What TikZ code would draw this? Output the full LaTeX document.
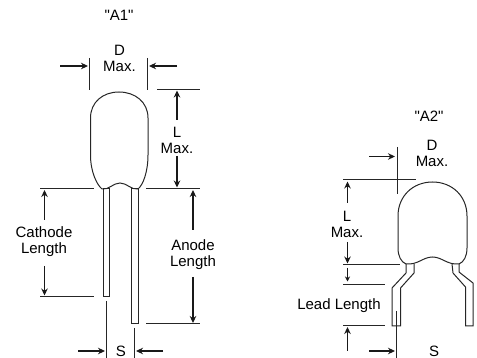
\documentclass[tikz,border=0pt]{standalone}
\usepackage{fontspec}
\newfontfamily\etiquettefont{Liberation Sans}
\usetikzlibrary{arrows.meta}

\begin{document}
\begin{tikzpicture}[x=1pt, y=-1pt]
\tikzset{etiquette/.style={inner sep=0pt, align=center, font=\etiquettefont\fontsize{15}{16}\selectfont, text=black},
  repere/.style={line width=1pt, black!85},
  cote/.style={line width=1.5pt, black!90, -{Stealth[length=7pt, width=6.5pt]}},
  petitecote/.style={line width=1pt, black!90, -{Stealth[length=5pt, width=5pt]}},
  contour/.style={line width=1pt, black!85}}
\useasboundingbox (0, 0) rectangle (477, 358);
% A1
\node[etiquette] (TitreA) at (119, 15) {"A1"};
\node[etiquette] (DA) at (119.5, 58) {D\\Max.};
\node[etiquette] (LA) at (177, 140) {L\\Max.};
\node[etiquette] (Cathode) at (44, 242) {Cathode\\Length};
\node[etiquette] (Anode) at (193, 255) {Anode\\Length};
\node[etiquette] (SA) at (121, 351) {S};
\coordinate (DAg) at (89, 58);
\coordinate (DAgb) at (89, 90);
\coordinate (DAd) at (147.5, 58);
\coordinate (DAdb) at (147.5, 90);
\coordinate (HAg) at (157, 89.5);
\coordinate (HAd) at (200, 89.5);
\coordinate (BAa) at (40, 188.5);
\coordinate (BAb) at (94, 188.5);
\coordinate (BAc) at (146, 188.5);
\coordinate (BAd) at (200, 188.5);
\coordinate (CAa) at (40, 296.5);
\coordinate (CAb) at (94, 296.5);
\coordinate (AAa) at (146, 324);
\coordinate (AAb) at (200, 324);
\coordinate (SAg) at (106, 301);
\coordinate (SAgb) at (106, 358);
\coordinate (SAd) at (134.5, 328);
\coordinate (SAdb) at (134.5, 358);
\draw[repere] (DAg) -- (DAgb);
\draw[repere] (DAd) -- (DAdb);
\draw[repere] (HAg) -- (HAd);
\draw[repere] (BAa) -- (BAb);
\draw[repere] (BAc) -- (BAd);
\draw[repere] (CAa) -- (CAb);
\draw[repere] (AAa) -- (AAb);
\draw[repere] (SAg) -- (SAgb);
\draw[repere] (SAd) -- (SAdb);
\draw[contour] (102, 189) .. controls (97, 185) and (90.5, 172) .. (90.5, 155) -- (90.5, 118)
  .. controls (90.5, 102) and (103, 92) .. (119, 92) .. controls (135, 92) and (148, 102) .. (148, 118)
  -- (148, 155) .. controls (148, 172) and (143, 185) .. (138, 189)
  .. controls (131, 190) and (127, 183) .. (120, 183) .. controls (113, 183) and (109, 190) .. (102, 189);
\draw[contour] (103.5, 189) rectangle (109.5, 297);
\draw[contour] (131, 189) rectangle (138, 324);
\coordinate (FDAg) at (60, 66);
\coordinate (FDAgb) at (88, 66);
\coordinate (FDAd) at (177, 66);
\coordinate (FDAdb) at (149, 66);
\draw[cote] (FDAg) -- (FDAgb);
\draw[cote] (FDAd) -- (FDAdb);
\coordinate (FLAh) at (177, 120);
\coordinate (FLAhb) at (177, 90.5);
\coordinate (FLAb) at (177, 156);
\coordinate (FLAbb) at (177, 187.5);
\draw[cote] (FLAh) -- (FLAhb);
\draw[cote] (FLAb) -- (FLAbb);
\coordinate (FCh) at (44.5, 220);
\coordinate (FChb) at (44.5, 190);
\coordinate (FCb) at (44.5, 266);
\coordinate (FCbb) at (44.5, 295.5);
\draw[cote] (FCh) -- (FChb);
\draw[cote] (FCb) -- (FCbb);
\coordinate (FAh) at (193, 230);
\coordinate (FAhb) at (193, 190);
\coordinate (FAb) at (193, 277);
\coordinate (FAbb) at (193, 323);
\draw[cote] (FAh) -- (FAhb);
\draw[cote] (FAb) -- (FAbb);
\coordinate (FSAg) at (78, 351);
\coordinate (FSAgb) at (105, 351);
\coordinate (FSAd) at (163, 351);
\coordinate (FSAdb) at (136, 351);
\draw[cote] (FSAg) -- (FSAgb);
\draw[cote] (FSAd) -- (FSAdb);
% A2
\node[etiquette] (TitreB) at (429, 116) {"A2"};
\node[etiquette] (DB) at (432, 153.5) {D\\Max.};
\node[etiquette] (LB) at (347, 224) {L\\Max.};
\node[etiquette] (Lead) at (339, 306) {Lead Length};
\node[etiquette] (SB) at (434, 351) {S};
\coordinate (DBh) at (397, 147);
\coordinate (DBb) at (397, 194);
\coordinate (HBg) at (343, 180);
\coordinate (HBd) at (416, 180);
\coordinate (MBg) at (343, 264.5);
\coordinate (MBd) at (400, 264.5);
\coordinate (PBg) at (343, 285);
\coordinate (PBd) at (385, 285);
\coordinate (QBg) at (343, 325.5);
\coordinate (QBd) at (385, 325.5);
\coordinate (SBh) at (396.5, 311);
\coordinate (SBb) at (396.5, 358);
\draw[repere] (DBh) -- (DBb);
\draw[repere] (HBg) -- (HBd);
\draw[repere] (MBg) -- (MBd);
\draw[repere] (PBg) -- (PBd);
\draw[repere] (QBg) -- (QBd);
\draw[repere] (SBh) -- (SBb);
\draw[contour] (406, 264) .. controls (401, 262) and (398, 256) .. (398, 248) -- (398, 216)
  .. controls (398, 196) and (413, 182) .. (432.5, 182) .. controls (452, 182) and (467, 196) .. (467, 216)
  -- (467, 248) .. controls (467, 256) and (464, 262) .. (459, 264)
  .. controls (447, 265) and (442, 257) .. (432.5, 257) .. controls (423, 257) and (418, 265) .. (406, 264);
\draw[contour] (406, 264) -- (406, 273) -- (392, 288) -- (392, 326) -- (400.5, 326) -- (400.5, 288) -- (414, 273) -- (414, 264);
\draw[contour] (452, 264) -- (453, 273) -- (465.5, 287) -- (465.5, 326) -- (473, 326) -- (473, 283) -- (459, 272) -- (459, 264);
\coordinate (FDB) at (369, 156.5);
\coordinate (FDBb) at (395, 156.5);
\draw[cote] (FDB) -- (FDBb);
\coordinate (FLBh) at (347.5, 203);
\coordinate (FLBhb) at (347.5, 181.5);
\coordinate (FLBb) at (347.5, 242);
\coordinate (FLBbb) at (347.5, 263.5);
\draw[cote] (FLBh) -- (FLBhb);
\draw[cote] (FLBb) -- (FLBbb);
\coordinate (FPh) at (347.5, 268);
\coordinate (FPhb) at (347.5, 281.5);
\draw[petitecote] (FPh) -- (FPhb);
\coordinate (FQ) at (347.5, 351);
\coordinate (FQb) at (347.5, 327);
\draw[cote] (FQ) -- (FQb);
\coordinate (FSB) at (369, 351);
\coordinate (FSBb) at (395, 351);
\draw[cote] (FSB) -- (FSBb);
\end{tikzpicture}
\end{document}
